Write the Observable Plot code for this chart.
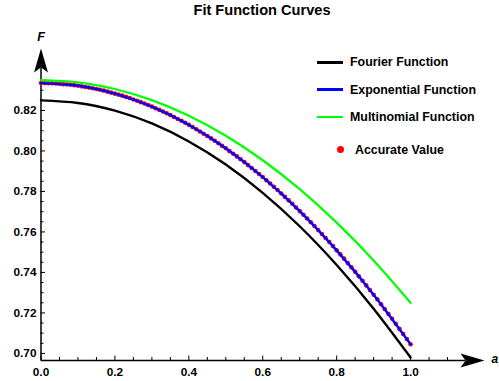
<!DOCTYPE html>
<html>
<head>
<meta charset="utf-8">
<script src="https://cdn.jsdelivr.net/npm/d3@7"></script>
<script src="https://cdn.jsdelivr.net/npm/@observablehq/plot@0.6"></script>
<style>
  html, body { margin: 0; padding: 0; background: #fff; }
  #wrap { position: relative; width: 499px; height: 381px; overflow: hidden; font-family: "Liberation Sans", Arial, sans-serif; font-weight: bold; }
  #title { position: absolute; left: 0; width: 524px; top: 0; height: 20px; line-height: 20px; text-align: center; font-size: 14.6px; }
  .lg { position: absolute; font-size: 12.4px; height: 16px; line-height: 16px; white-space: nowrap; }
  .sw { position: absolute; height: 2.6px; width: 26px; }
  .dotsw { position: absolute; width: 7px; height: 7px; border-radius: 50%; background: #ff0000; }
  #chart { position: absolute; left: 0; top: 0; }
</style>
</head>
<body>
<div id="wrap">
  <div id="chart"></div>
  <div id="title">Fit Function Curves</div>
</div>
<script>
// ---- data ----
const xCurve = [0, 0.1, 0.2, 0.3, 0.4, 0.5, 0.6, 0.7, 0.8, 0.9, 1.0];
const fourier = [0.8250, 0.8237, 0.8199, 0.8136, 0.8047, 0.7933, 0.7793, 0.7628, 0.7437, 0.7221, 0.6980];
const exponential = [0.8335, 0.8322, 0.8283, 0.8219, 0.8129, 0.8013, 0.7871, 0.7703, 0.7509, 0.7290, 0.7045];
const multinomial = [0.8350, 0.8339, 0.8306, 0.8251, 0.8174, 0.8075, 0.7954, 0.7811, 0.7646, 0.7459, 0.7250];
const accurate = [
  0.8335, 0.8335, 0.8334, 0.8334, 0.8333, 0.8332, 0.8330, 0.8329, 0.8327, 0.8325,
  0.8322, 0.8319, 0.8316, 0.8313, 0.8310, 0.8306, 0.8302, 0.8298, 0.8293, 0.8288,
  0.8283, 0.8278, 0.8273, 0.8267, 0.8261, 0.8254, 0.8248, 0.8241, 0.8234, 0.8227,
  0.8219, 0.8211, 0.8203, 0.8195, 0.8186, 0.8177, 0.8168, 0.8158, 0.8149, 0.8139,
  0.8129, 0.8118, 0.8107, 0.8096, 0.8085, 0.8074, 0.8062, 0.8050, 0.8038, 0.8025,
  0.8013, 0.7999, 0.7986, 0.7973, 0.7959, 0.7945, 0.7930, 0.7916, 0.7901, 0.7886,
  0.7871, 0.7855, 0.7839, 0.7823, 0.7807, 0.7790, 0.7773, 0.7756, 0.7739, 0.7721,
  0.7703, 0.7685, 0.7666, 0.7648, 0.7629, 0.7609, 0.7590, 0.7570, 0.7550, 0.7530,
  0.7509, 0.7489, 0.7468, 0.7446, 0.7425, 0.7403, 0.7381, 0.7359, 0.7336, 0.7313,
  0.7290, 0.7267, 0.7243, 0.7219, 0.7195, 0.7171, 0.7146, 0.7121, 0.7096, 0.7071,
  0.7045
];
const xAccurate = accurate.map((_, i) => i / 100);
const xMajorTicks = [0, 0.2, 0.4, 0.6, 0.8, 1.0];
const xMinorTicks = [0.05, 0.1, 0.15, 0.25, 0.3, 0.35, 0.45, 0.5, 0.55, 0.65, 0.7, 0.75, 0.85, 0.9, 0.95, 1.05, 1.1];
const yMajorTicks = [0.70, 0.72, 0.74, 0.76, 0.78, 0.80, 0.82];
const yMinorTicks = [0.705, 0.71, 0.715, 0.725, 0.73, 0.735, 0.745, 0.75, 0.755, 0.765, 0.77, 0.775,
  0.785, 0.79, 0.795, 0.805, 0.81, 0.815, 0.825, 0.83, 0.835];
const seriesNames = ["Fourier Function", "Exponential Function", "Multinomial Function"];
const seriesColors = ["#000000", "#0000ff", "#00ff00"];
const pointName = "Accurate Value";

// ---- layout ----
const W = 499, H = 381;
const mL = 40.5, mR = 15, mT = 48, mB = 21;
const xDom = [0, 1.2], yDom = [0.6965, 0.8506];
const pxX = (xDom[1] - xDom[0]) / (W - mL - mR);
const pxY = (yDom[1] - yDom[0]) / (H - mT - mB);

const curveRows = (vals) => xCurve.map((x, i) => ({x, y: vals[i]}));
const accRows = xAccurate.map((x, i) => ({x, y: accurate[i]}));

const arrowHead = {
  draw(ctx) {
    ctx.moveTo(0, 0);
    ctx.lineTo(-24, -7);
    ctx.lineTo(-19, 0);
    ctx.lineTo(-24, 7);
    ctx.closePath();
  }
};

const font = {fontSize: 11.8, fontWeight: "bold", fontFamily: "Liberation Sans, Arial, sans-serif"};

const chart = Plot.plot({
  width: W, height: H,
  marginLeft: mL, marginRight: mR, marginTop: mT, marginBottom: mB,
  x: {domain: xDom},
  y: {domain: yDom},
  style: {background: "transparent", fontFamily: "Liberation Sans, Arial, sans-serif", color: "#000"},
  marks: [
    Plot.axisX({ticks: xMajorTicks, tickSize: 0, tickPadding: 7.5, tickFormat: d3.format(".1f"), label: null, ...font}),
    Plot.axisY({ticks: yMajorTicks, tickSize: 0, tickPadding: 4.5, tickFormat: d3.format(".2f"), label: null, ...font}),
    // ticks (inward)
    Plot.ruleX(xMajorTicks, {x: d => d, y1: yDom[0], y2: yDom[0] + 4.5 * pxY, stroke: "#000", strokeWidth: 1}),
    Plot.ruleX(xMinorTicks, {x: d => d, y1: yDom[0], y2: yDom[0] + 3 * pxY, stroke: "#000", strokeWidth: 1}),
    Plot.ruleY(yMajorTicks, {y: d => d, x1: 0, x2: 4.5 * pxX, stroke: "#000", strokeWidth: 1}),
    Plot.ruleY(yMinorTicks, {y: d => d, x1: 0, x2: 3 * pxX, stroke: "#000", strokeWidth: 1}),
    // axis lines with arrow heads
    Plot.ruleY([yDom[0]], {x1: 0, x2: xDom[1] - 19 * pxX, stroke: "#000", strokeWidth: 1.5}),
    Plot.ruleX([0], {y1: yDom[0], y2: yDom[1] - 19 * pxY, stroke: "#000", strokeWidth: 1.5}),
    Plot.dot([0], {x: xDom[1], y: yDom[0], symbol: arrowHead, r: 5, fill: "#000", stroke: null}),
    Plot.dot([0], {x: 0, y: yDom[1], symbol: arrowHead, r: 5, fill: "#000", stroke: null, rotate: -90}),
    // axis labels
    Plot.text(["F"], {frameAnchor: "top-left", dy: -16, text: d => d, fontSize: 12.5, fontWeight: "bold", fontStyle: "italic", textAnchor: "middle"}),
    Plot.text(["a"], {frameAnchor: "bottom-right", dx: 7, dy: 2, text: d => d, fontSize: 12, fontWeight: "bold", fontStyle: "italic", textAnchor: "start"}),
    // data
    Plot.dot(accRows, {x: "x", y: "y", r: 2.3, fill: "#ff0000", stroke: null}),
    Plot.line(curveRows(fourier), {x: "x", y: "y", stroke: seriesColors[0], strokeWidth: 2.4, curve: "natural"}),
    Plot.line(curveRows(exponential), {x: "x", y: "y", stroke: seriesColors[1], strokeWidth: 2.4, curve: "natural"}),
    Plot.line(curveRows(multinomial), {x: "x", y: "y", stroke: seriesColors[2], strokeWidth: 2.2, curve: "natural"})
  ]
});
document.getElementById("chart").appendChild(chart);

// ---- legend ----
const wrap = document.getElementById("wrap");
const legY = [62.3, 89.5, 116.8];
seriesNames.forEach((name, i) => {
  const sw = document.createElement("div");
  sw.className = "sw";
  sw.style.left = "317px";
  sw.style.top = (legY[i] - 1.3) + "px";
  sw.style.background = seriesColors[i];
  wrap.appendChild(sw);
  const t = document.createElement("div");
  t.className = "lg";
  t.style.left = "350px";
  t.style.top = (legY[i] - 8) + "px";
  t.textContent = name;
  wrap.appendChild(t);
});
const ds = document.createElement("div");
ds.className = "dotsw";
ds.style.left = (340.7 - 3.5) + "px";
ds.style.top = (149.5 - 3.5) + "px";
wrap.appendChild(ds);
const dt = document.createElement("div");
dt.className = "lg";
dt.style.left = "355px";
dt.style.top = (150 - 8) + "px";
dt.textContent = pointName;
wrap.appendChild(dt);
</script>
</body>
</html>
